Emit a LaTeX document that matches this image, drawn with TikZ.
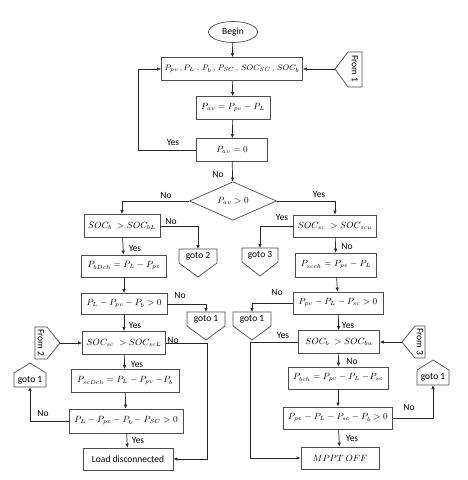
\documentclass[tikz,border=0pt]{standalone}
\usepackage{fontspec}
\setmainfont{Carlito}
\usetikzlibrary{arrows.meta,shapes.geometric}
\begin{document}
\begin{tikzpicture}[x=1pt,y=-1pt,
  box/.style={draw=black!70,line width=0.7pt,inner sep=0pt,font=\fontsize{9}{10}\selectfont},
  lbl/.style={font=\fontsize{9.5}{11}\selectfont,inner sep=0pt},
  pent/.style={draw=black!70,line width=0.7pt},
  conn/.style={draw=black!85,line width=0.7pt},
  arr/.style={conn,-{Latex[length=4pt,width=3.5pt]}}]
\useasboundingbox (0,0) rectangle (468,480);

% main spine
\node[ellipse,draw=black!70,line width=0.7pt,minimum width=49,minimum height=21,inner sep=0pt,lbl] (begin) at (233,32) {Begin};
\node[box,minimum width=141,minimum height=23,font=\fontsize{8}{9}\selectfont] (in) at (232,69) {$P_{pv}\,,P_{L}\;,\,P_{b}\,,\,P_{SC}\,,\,SOC_{SC}\,,\,SOC_{b}$};
\node[box,minimum width=74,minimum height=23] (pav) at (233,108) {$P_{av}=P_{pv}-P_{L}$};
\node[box,minimum width=71,minimum height=23] (pav0) at (232,150) {$P_{av}=0$};
\node[diamond,draw=black!70,line width=0.7pt,inner sep=0pt,minimum width=87,minimum height=37,font=\fontsize{9}{10}\selectfont] (dia) at (233,201) {$P_{av}>0$};

% left column
\node[box,minimum width=76,minimum height=23] (L1) at (122,226) {$SOC_{b}\;>SOC_{bL}$};
\node[box,minimum width=85,minimum height=22] (L2) at (124,266) {$P_{bDch}=P_{L}-P_{pv}$};
\node[box,minimum width=86,minimum height=21] (L3) at (124,304) {$P_{L}-P_{pv}-P_{b}>0$};
\node[box,minimum width=83,minimum height=23] (L4) at (124,343) {$SOC_{sc}\;>SOC_{scL}$};
\node[box,minimum width=108,minimum height=23] (L5) at (125,381) {$P_{scDch}=P_{L}-P_{pv}-\!P_{b}$};
\node[box,minimum width=114,minimum height=24] (L6) at (126,421) {$P_{L}-P_{pv}-P_{b}-P_{SC}>0$};
\node[box,lbl,minimum width=90,minimum height=22] (L7) at (128,459) {Load disconnected};

% right column
\node[box,minimum width=83,minimum height=22] (R1) at (335,226) {$SOC_{sc}\;>SOC_{scu}$};
\node[box,minimum width=81,minimum height=24] (R2) at (336,265) {$P_{scch}=P_{pv}-P_{L}$};
\node[box,minimum width=90,minimum height=22] (R3) at (338,303) {$P_{pv}-P_{L}-P_{sc}>0$};
\node[box,minimum width=81,minimum height=23] (R4) at (339,342) {$SOC_{b}\;>SOC_{bu}$};
\node[box,minimum width=100,minimum height=22] (R5) at (338,378) {$P_{bch}=P_{pv}-P_{L}-\!P_{sc}$};
\node[box,minimum width=109,minimum height=22] (R6) at (338,418) {$P_{pv}-P_{L}-P_{sc}-P_{b}>0$};
\node[box,minimum width=78,minimum height=22] (R7) at (340,458) {$MPPT\ OFF$};

% connector pentagons
\draw[pent] (335,69) -- (348,52) -- (362,52) -- (362,87) -- (348,87) -- cycle;
\node[lbl,rotate=-90] (f1) at (355,69) {From 1};
\coordinate (f1p) at (335,69);

\draw[pent] (60,343) -- (47,327) -- (35,327) -- (35,359) -- (47,359) -- cycle;
\node[lbl,rotate=-90] (f2) at (41,343) {From 2};
\coordinate (f2p) at (60,343);

\draw[pent] (402,342) -- (415,326) -- (425,326) -- (425,358) -- (415,358) -- cycle;
\node[lbl,rotate=-90] (f3) at (420,342) {From 3};
\coordinate (f3p) at (402,342);

\draw[pent] (179,249) -- (217,249) -- (217,263) -- (198,277) -- (179,263) -- cycle;
\node[lbl] (g2) at (198,256) {goto 2};
\coordinate (g2t) at (198,249);

\draw[pent] (187,312) -- (225,312) -- (225,326) -- (206,340) -- (187,326) -- cycle;
\node[lbl] (g1a) at (206,319) {goto 1};
\coordinate (g1at) at (206,312);

\draw[pent] (242,248) -- (278,248) -- (278,262) -- (260,276) -- (242,262) -- cycle;
\node[lbl] (g3) at (260,255) {goto 3};
\coordinate (g3t) at (260,248);

\draw[pent] (233,312) -- (271,312) -- (271,326) -- (252,340) -- (233,326) -- cycle;
\node[lbl] (g1b) at (252,319) {goto 1};
\coordinate (g1bt) at (252,312);

\draw[pent] (14,387) -- (14,373) -- (30,363) -- (46,373) -- (46,387) -- cycle;
\node[lbl] (g1c) at (30,380) {goto 1};
\coordinate (g1cb) at (30,387);

\draw[pent] (417,385) -- (417,370) -- (433,360) -- (449,370) -- (449,385) -- cycle;
\node[lbl] (g1d) at (433,377) {goto 1};
\coordinate (g1db) at (433,385);

% route coordinates
\coordinate (lp) at (138,0);
\coordinate (rl) at (207,0);
\coordinate (rr) at (250,0);

% connectors
\draw[arr] (begin) -- (in);
\draw[arr] (in) -- (pav);
\draw[arr] (pav) -- (pav0);
\draw[arr] (pav0.west) -- (pav0.west -| lp) |- (in.west);
\draw[arr] (f1p) -- (in.east);
\draw[arr] (pav0) -- (dia);
\draw[arr] (dia.west) -| (L1.north);
\draw[arr] (dia.east) -| (R1.north);

\draw[arr] (L1.east) -| (g2t);
\draw[arr] (L1) -- (L2);
\draw[arr] (L2) -- (L3);
\draw[arr] (L3.east) -| (g1at);
\draw[arr] (L3) -- (L4);
\draw[arr] (f2p) -- (L4.west);
\draw[arr] (L4.east) -- (L4.east -| rl) |- (L7.east);
\draw[arr] (L4) -- (L5);
\draw[arr] (L5) -- (L6);
\draw[arr] (L6.west) -| (g1cb);
\draw[arr] (L6) -- (L7);

\draw[arr] (R1.west) -| (g3t);
\draw[arr] (R1) -- (R2);
\draw[arr] (R2) -- (R3);
\draw[arr] (R3.west) -| (g1bt);
\draw[arr] (R3) -- (R4);
\draw[arr] (f3p) -- (R4.east);
\draw[arr] (R4.west) -- (R4.west -| rr) |- (R7.west);
\draw[arr] (R4) -- (R5);
\draw[arr] (R5) -- (R6);
\draw[arr] (R6.east) -| (g1db);
\draw[arr] (R6) -- (R7);

% labels
\node[lbl] (t1) at (173,142) {Yes};
\node[lbl] (t2) at (218,174) {No};
\node[lbl] (t3) at (166,195) {No};
\node[lbl] (t4) at (319,194) {Yes};
\node[lbl] (t5) at (171,221) {No};
\node[lbl] (t6) at (135,248) {Yes};
\node[lbl] (t7) at (180,295) {No};
\node[lbl] (t8) at (135,325) {Yes};
\node[lbl] (t9) at (282,217) {Yes};
\node[lbl] (t10) at (347,246) {No};
\node[lbl] (t11) at (277,292) {No};
\node[lbl] (t12) at (348,325) {Yes};
\node[lbl] (t13) at (173,340) {No};
\node[lbl] (t14) at (137,364) {Yes};
\node[lbl] (t15) at (43,413) {No};
\node[lbl] (t16) at (138,440) {Yes};
\node[lbl] (t17) at (283,335) {Yes};
\node[lbl] (t18) at (352,361) {No};
\node[lbl] (t19) at (409,407) {No};
\node[lbl] (t20) at (352,438) {Yes};
\end{tikzpicture}
\end{document}
